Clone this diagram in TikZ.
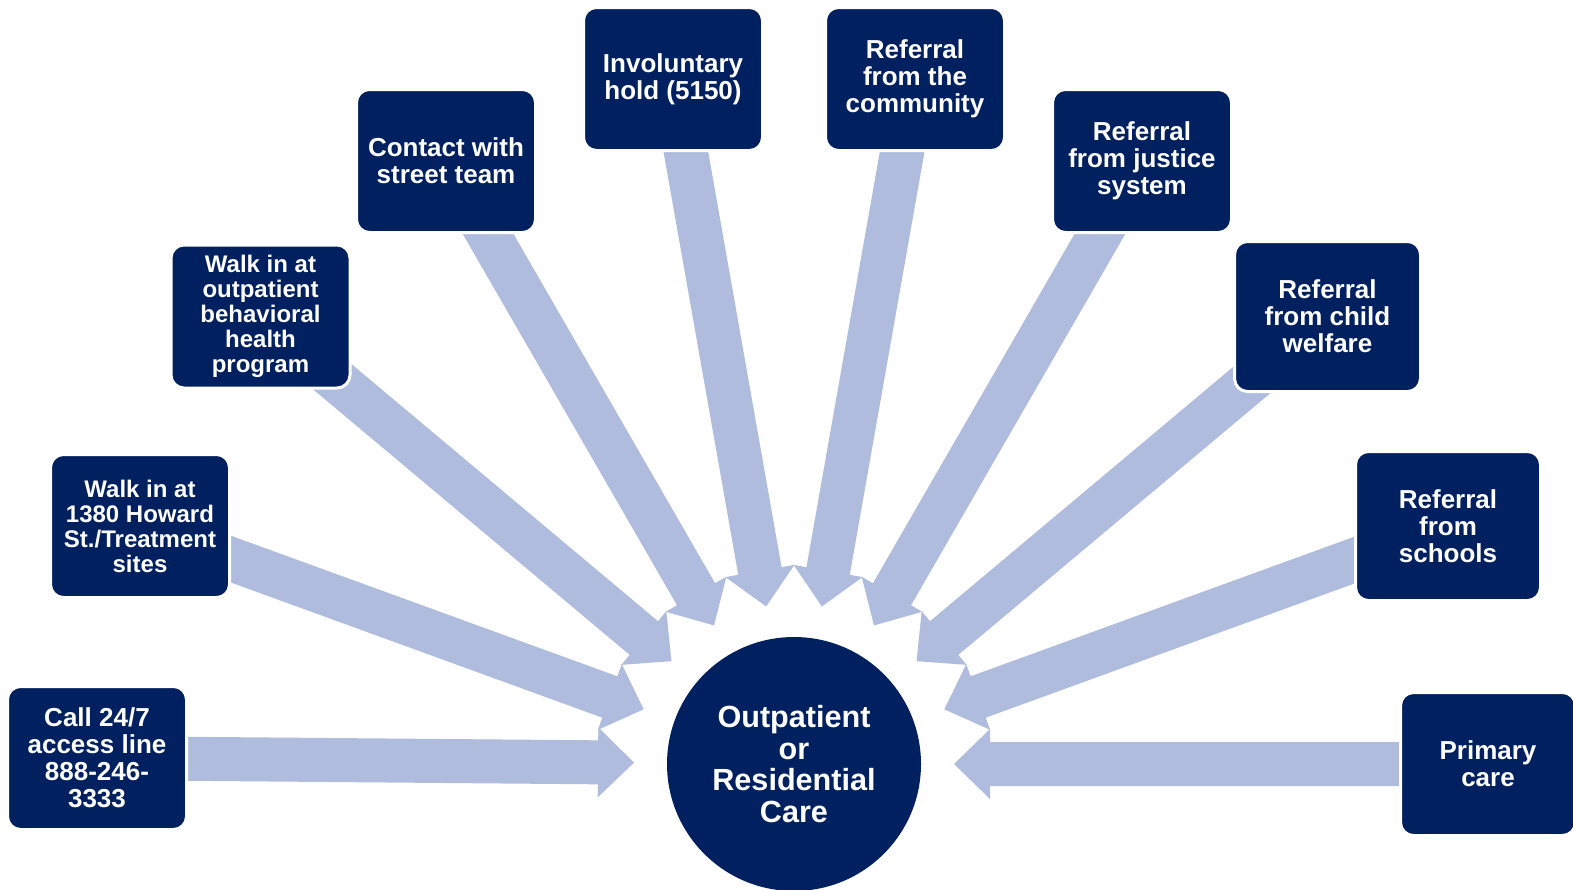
\documentclass[tikz,border=0pt]{standalone}
\usepackage{fontspec}
\setmainfont{Liberation Sans}
\usetikzlibrary{calc}
\pgfdeclarelayer{bg}
\pgfsetlayers{bg,main}
\definecolor{navy}{RGB}{0,32,96}
\definecolor{arrowc}{RGB}{175,188,221}
\newcommand\blockarrow[2]{%
  \fill[arrowc] ($(#1)!11pt!90:(#2)$) -- ($(#2)!18pt!(#1)!11pt!90:(#2)$)
    -- ($(#2)!18pt!(#1)!17.5pt!90:(#2)$) -- (#2)
    -- ($(#2)!18pt!(#1)!17.5pt!-90:(#2)$) -- ($(#2)!18pt!(#1)!11pt!-90:(#2)$)
    -- ($(#1)!11pt!-90:(#2)$) -- cycle;}
\begin{document}
\begin{tikzpicture}[x=0.5pt,y=-0.5pt,
  srcbox/.style={rectangle, rounded corners=6.5pt, fill=navy, draw=white, line width=1.5pt,
    text=white, align=center, inner sep=0pt, minimum width=89.5pt, minimum height=71.5pt,
    font=\fontsize{13}{13.5}\selectfont\bfseries},
  smallbox/.style={srcbox, font=\fontsize{12}{12.5}\selectfont\bfseries},
  hub/.style={circle, fill=navy, text=white, align=center, inner sep=0pt, minimum size=127pt,
    font=\fontsize{15.3}{15.85}\selectfont\bfseries}]
\useasboundingbox (0,0) rectangle (1573,889);
\node[hub] (hub) at (794,764) {Outpatient\\or\\Residential\\Care};
\node[srcbox] (b1) at (97,758) {Call 24/7\\access line\\888-246-\\3333};
\node[smallbox] (b2) at (140,526) {Walk in at\\1380 Howard\\St./Treatment\\sites};
\node[smallbox] (b3) at (260.5,316.5) {Walk in at\\outpatient\\behavioral\\health\\program};
\node[srcbox] (b4) at (446,161) {Contact with\\street team};
\node[srcbox] (b5) at (673,79) {Involuntary\\hold (5150)};
\node[srcbox] (b6) at (915,79) {Referral\\from the\\community};
\node[srcbox] (b7) at (1142,161) {Referral\\from justice\\system};
\node[srcbox, minimum width=93pt, minimum height=75pt] (b8) at (1327.5,316.5) {Referral\\from child\\welfare};
\node[srcbox, minimum width=92.5pt, minimum height=74.5pt] (b9) at (1448,526) {Referral\\from\\schools};
\node[srcbox, minimum width=87.5pt] (b10) at (1488,764) {Primary\\care};
\foreach \i in {1,...,10} {\coordinate (t\i) at ($(hub.center)!80pt!(b\i.center)$);}
\begin{pgfonlayer}{bg}
\foreach \i in {1,...,10} {\blockarrow{b\i.center}{t\i}}
\end{pgfonlayer}
\end{tikzpicture}
\end{document}
